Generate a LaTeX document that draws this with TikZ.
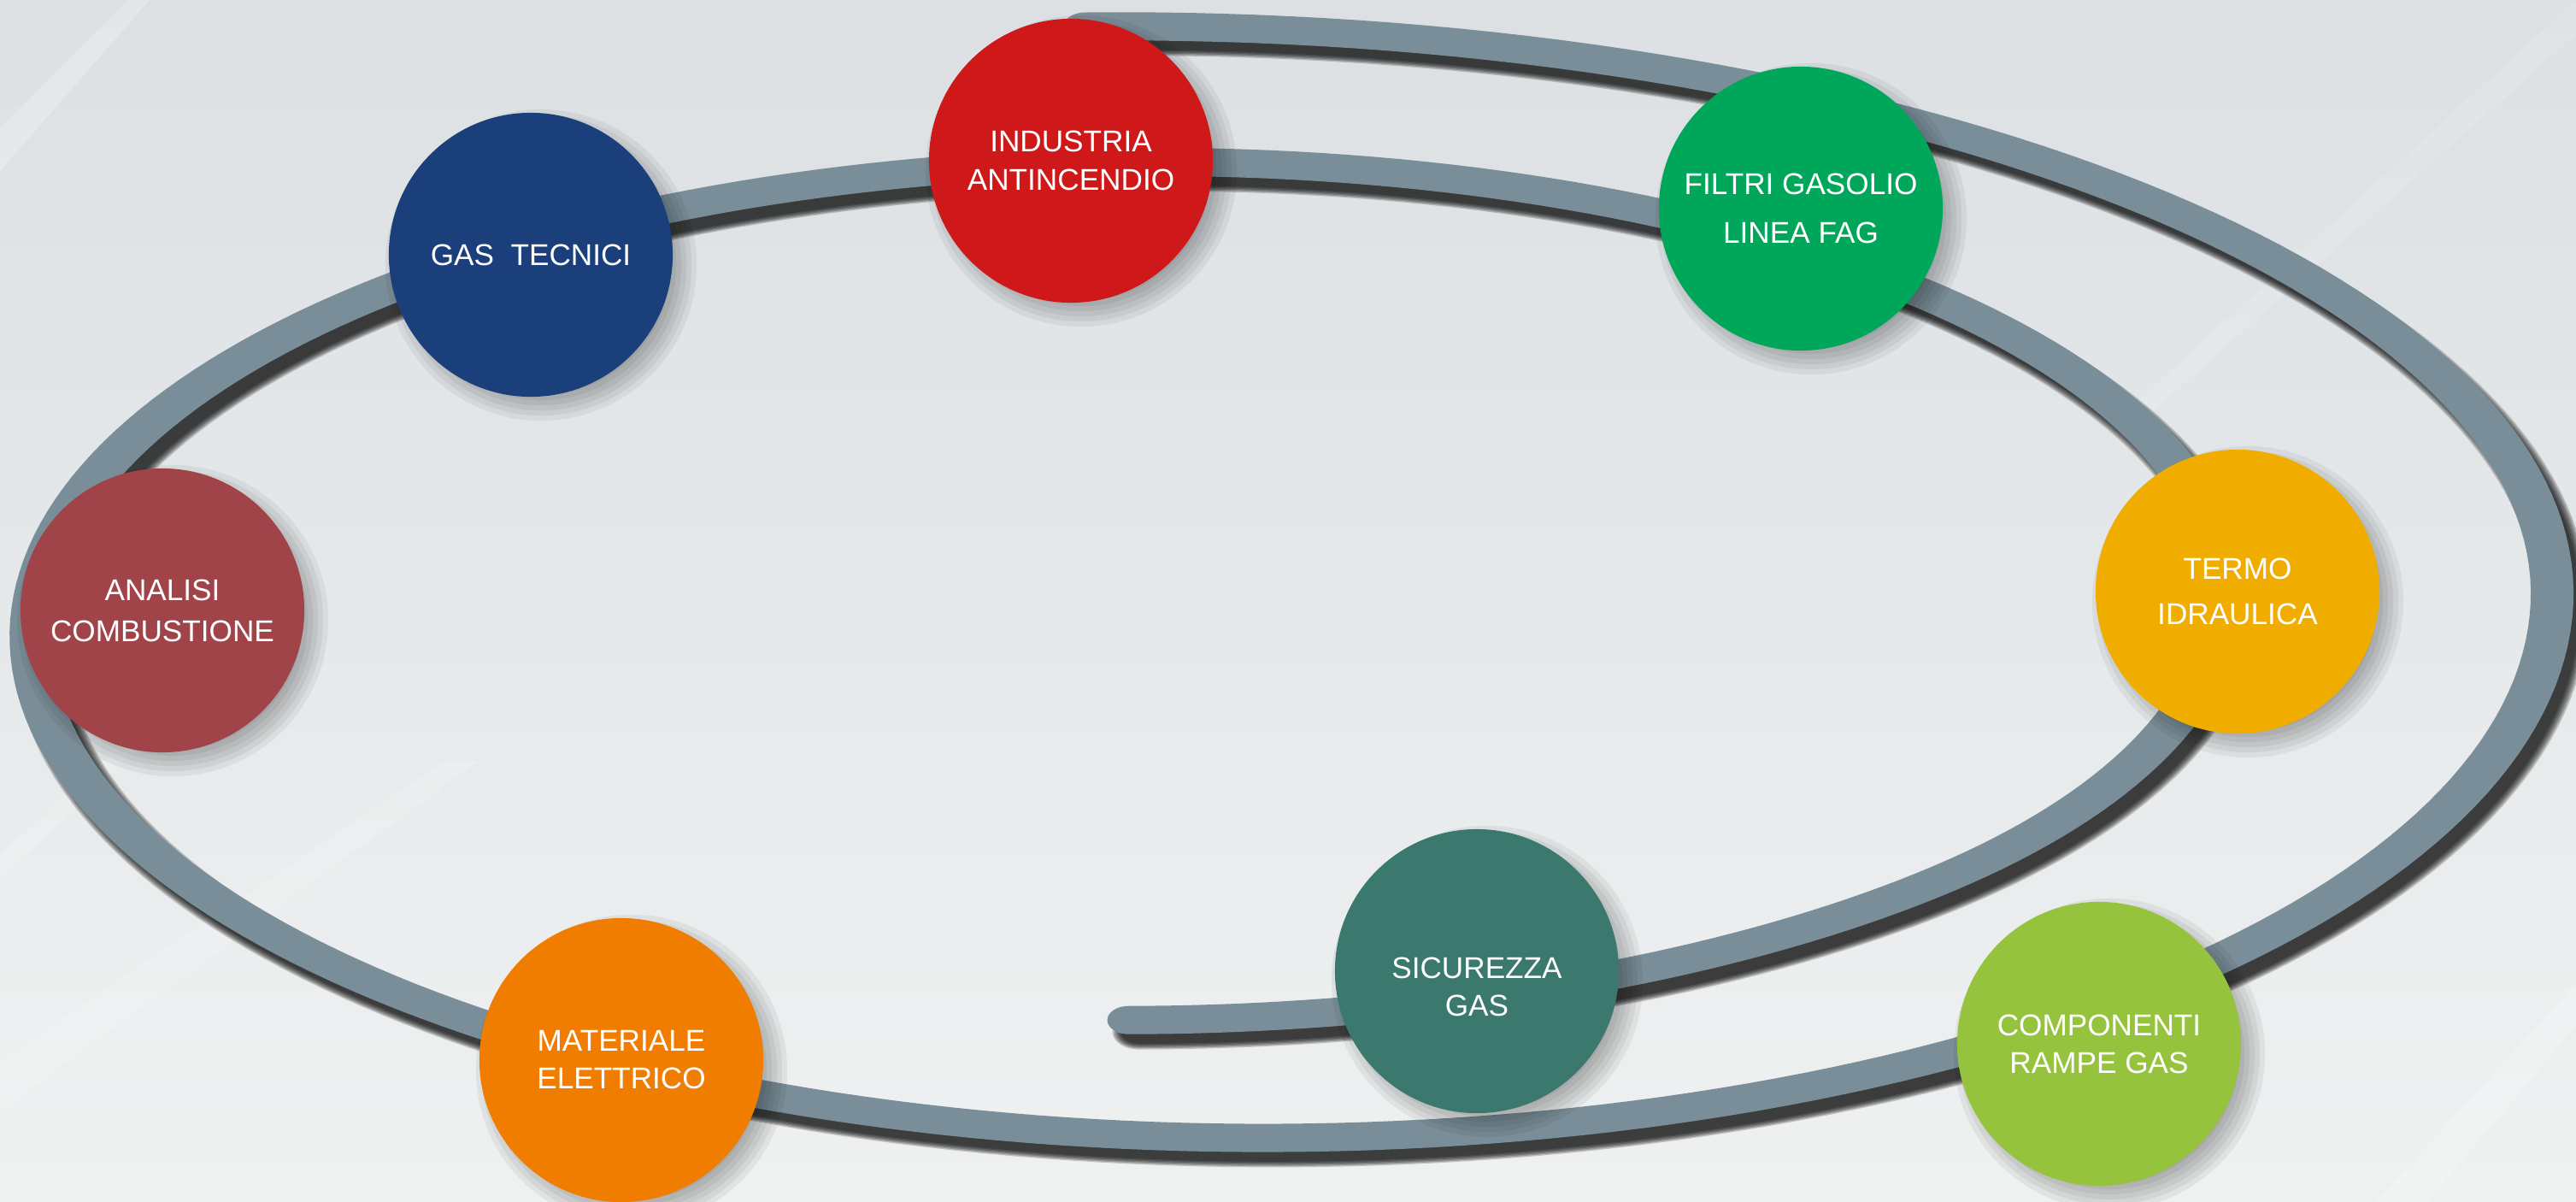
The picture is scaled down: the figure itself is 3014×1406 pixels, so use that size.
\documentclass[tikz,border=0pt]{standalone}
\usepackage{fontspec}
\setmainfont{Liberation Sans}
\usetikzlibrary{calc}

\definecolor{band}{HTML}{7A8E99}
\definecolor{bgtop}{HTML}{DCE0E3}
\definecolor{bgbot}{HTML}{EFF1F1}
\definecolor{redA}{HTML}{CE181A}
\definecolor{blueG}{HTML}{1A3F7B}
\definecolor{greenF}{HTML}{00A75B}
\definecolor{wineA}{HTML}{A04449}
\definecolor{yellowT}{HTML}{F0AD00}
\definecolor{tealS}{HTML}{3B786D}
\definecolor{orangeM}{HTML}{F07C00}
\definecolor{limeC}{HTML}{96C33E}

\pgfdeclarelayer{back}
\pgfdeclarelayer{shade}
\pgfsetlayers{back,shade,main}

% the grey spiral band, in pixel units (y downwards), drawn in a canvas squashed to 0.66
\newcommand{\spiralband}{plot[domain=-95:455, samples=400, variable=\t]
  ({1415+(1185+1.0694*\t)*cos(\t)},
   {(719-(487.75+0.4583*\t)*sin(\t)+(\t<-40)*34*((\t+40)/57)*((\t+40)/57)
     +(\t>360)*12*sin((\t-360)*1.6))/0.66})}

\begin{document}
\begin{tikzpicture}[x=0.01cm, y=-0.01cm,
  bubble/.style = {circle, minimum size=3.32cm, inner sep=0pt, text=white,
    align=center, font=\fontsize{10}{12.5}\selectfont}]
  \useasboundingbox (0,0) rectangle (3014,1406);

  \node[bubble, fill=redA] (industria) at (1253,188) {INDUSTRIA\\[0.5pt]ANTINCENDIO};
  \node[bubble, fill=blueG] (gastecnici) at (621,298) {GAS\ \ TECNICI};
  \node[bubble, fill=greenF] (filtri) at (2107,244) {FILTRI GASOLIO\\[3.9pt]LINEA FAG};
  \node[bubble, fill=wineA] (analisi) at (190,714) {ANALISI\\[1.1pt]COMBUSTIONE};
  \node[bubble, fill=yellowT] (termo) at (2618,692) {TERMO\\[2.7pt]IDRAULICA};
  \node[bubble, fill=tealS] (sicurezza) at (1728,1136) {\rule{0pt}{17.4pt}SICUREZZA\\GAS};
  \node[bubble, fill=orangeM] (materiale) at (727,1240) {MATERIALE\\ELETTRICO};
  \node[bubble, fill=limeC] (componenti) at (2456,1221) {COMPONENTI\\RAMPE GAS};

  % soft shadows under the circles
  \begin{pgfonlayer}{shade}
    \foreach \n in {industria,gastecnici,filtri,analisi,termo,sicurezza,materiale,componenti}
      \foreach \k in {0,...,6}
        \fill[black, opacity=0.055] ($(\n)+(12,12)$) circle ({1.46cm+\k*0.06cm});
  \end{pgfonlayer}

  \begin{pgfonlayer}{back}
    % background with light diagonal stripes
    \shade[top color=bgtop, bottom color=bgbot] (0,0) rectangle (3014,1406);
    \fill[white, opacity=0.25] (0,150) -- (150,0) -- (175,0) -- (0,200) -- cycle;
    \fill[white, opacity=0.15] (0,1240) -- (520,890) -- (560,890) -- (0,1300) -- cycle;
    \fill[white, opacity=0.15] (0,1000) -- (330,700) -- (345,700) -- (0,1030) -- cycle;
    \fill[white, opacity=0.2] (2780,1406) -- (3014,1150) -- (3014,1200) -- (2840,1406) -- cycle;
    \fill[white, opacity=0.12] (2500,470) -- (3014,0) -- (3014,40) -- (2520,480) -- cycle;
    % spiral and its shadow
    \begin{scope}[transform canvas={yscale=0.66}]
      \foreach \w in {42,46,...,62}
        \draw[black, opacity=0.2, line width=\w*0.1mm, line cap=round, shift={(12,21)}] \spiralband;
      \draw[band, line width=5mm, line cap=round] \spiralband;
    \end{scope}
  \end{pgfonlayer}
\end{tikzpicture}
\end{document}
